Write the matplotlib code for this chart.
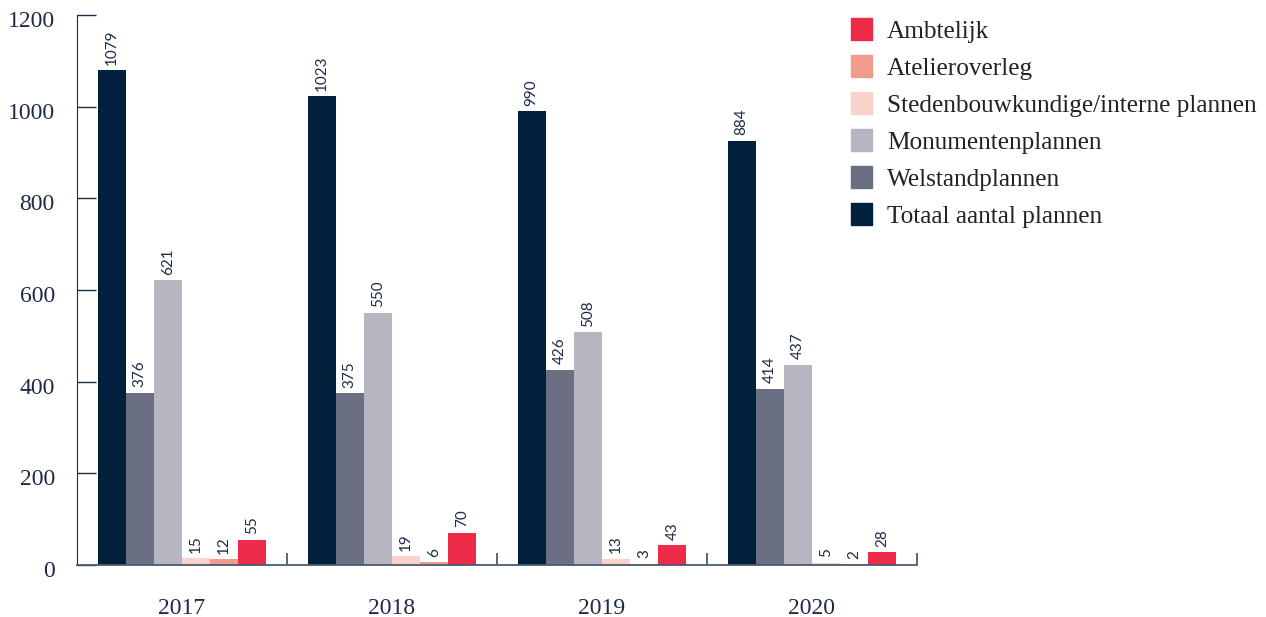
import numpy as np
import matplotlib
matplotlib.use('Agg')
import matplotlib.pyplot as plt
import matplotlib.transforms as mtransforms
from matplotlib.patches import Patch

years = ['2017', '2018', '2019', '2020']

# series in bar order (left to right within a year)
series = ['Totaal aantal plannen', 'Welstandplannen', 'Monumentenplannen',
          'Stedenbouwkundige/interne plannen', 'Atelieroverleg', 'Ambtelijk']
colors = ['#00203b', '#6a6f82', '#b6b6c2', '#f9d3cb', '#f29a8e', '#ed2a47']

# printed numbers above the bars
totaal = [1079, 1023, 990, 884]
welstand = [376, 375, 426, 414]
monumenten = [621, 550, 508, 437]
stedenbouw = [15, 19, 13, 5]
atelier = [12, 6, 3, 2]
ambtelijk = [55, 70, 43, 28]

# bar heights as drawn (2020 totaal/welstand bars differ from their labels)
totaal_h = [1079, 1023, 990, 925]
welstand_h = [376, 375, 426, 385]

labels = [totaal, welstand, monumenten, stedenbouw, atelier, ambtelijk]
heights = [totaal_h, welstand_h, monumenten, stedenbouw, atelier, ambtelijk]

fig = plt.figure(figsize=(12.66, 6.17), dpi=100)
ax = fig.add_axes([0.0608, 0.0843, 0.6635, 0.8914])

x = np.arange(len(years))
w = 0.134
n = len(series)
for i in range(n):
    pos = x + (i - (n - 1) / 2) * w
    bars = ax.bar(pos, heights[i], width=w, color=colors[i], zorder=1)
    for b, lab in zip(bars, labels[i]):
        ax.annotate(str(lab), (b.get_x() + b.get_width() / 2, b.get_height()),
                    xytext=(0, 4), textcoords='offset points', rotation=90,
                    ha='center', va='bottom', fontsize=11, family='Lato',
                    color='#1c2b45')

ax.set_xlim(-0.5, 3.5)
ax.set_ylim(0, 1200)
ax.set_yticks(range(0, 1201, 200))
ax.tick_params(axis='y', direction='in', length=14, width=1, color='#1c2b45',
               labelsize=17, labelcolor='#1c2b45', pad=16)
# numbers sit a little below their ticks
shift = mtransforms.ScaledTranslation(0, -3 / 72, fig.dpi_scale_trans)
for t in ax.get_yticklabels():
    t.set_family('Liberation Serif')
    t.set_transform(t.get_transform() + shift)

# year labels in the middle, short ticks on the group boundaries
ax.set_xticks(x)
ax.set_xticklabels(years, family='Liberation Serif', fontsize=17, color='#1c2b45')
ax.tick_params(axis='x', which='major', length=0, pad=24)
ax.set_xticks(np.arange(0.5, 3.6, 1), minor=True)
ax.tick_params(axis='x', which='minor', direction='in', length=9, width=1.3,
               color='#4a5a70')

for s in ['top', 'right']:
    ax.spines[s].set_visible(False)
ax.spines['left'].set_color('#1c2b45')
ax.spines['bottom'].set_color('#4a5a70')
ax.spines['bottom'].set_linewidth(1.3)

handles = [Patch(color=colors[i], label=series[i]) for i in range(n - 1, -1, -1)]
fig.legend(handles=handles, loc='upper left', bbox_to_anchor=(0.654, 1.007),
           frameon=False, prop={'family': 'Liberation Serif', 'size': 18.2},
           handlelength=0.86, handleheight=0.95, handletextpad=0.57,
           labelspacing=0.49, labelcolor='#222222')

fig.savefig('out.png', dpi=100)
